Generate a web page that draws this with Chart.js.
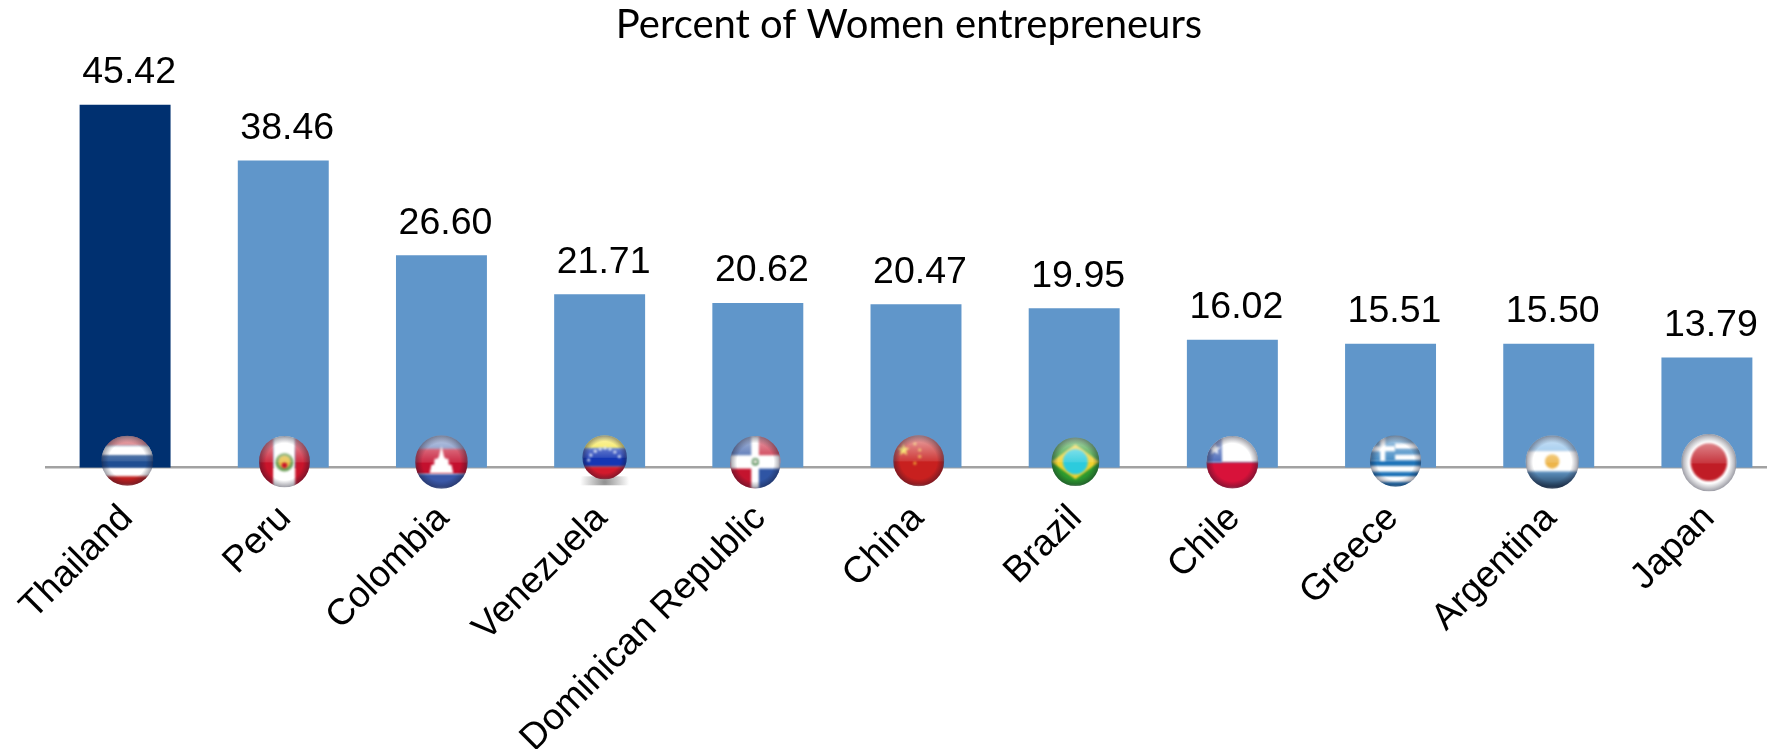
<!DOCTYPE html>
<html>
<head>
<meta charset="utf-8">
<title>Percent of Women entrepreneurs</title>
<script src="https://cdn.jsdelivr.net/npm/chart.js@4/dist/chart.umd.min.js"></script>
<style>
  html, body { margin: 0; padding: 0; background: #fff; overflow: hidden; }
  canvas { display: block; }
</style>
</head>
<body>
<!-- wider than the window: the last category runs past the right edge -->
<canvas id="chart" width="1786" height="749"></canvas>
<script>
/* ----------------------------- */
/* DATA                          */
/* ----------------------------- */
const countries = ["Thailand", "Peru", "Colombia", "Venezuela", "Dominican Republic", "China", "Brazil", "Chile", "Greece", "Argentina", "Japan"];
const womenPercent = [45.42, 38.46, 26.60, 21.71, 20.62, 20.47, 19.95, 16.02, 15.51, 15.50, 13.79];
const chartTitle = "Percent of Women entrepreneurs";

/* ----------------------------- */
/* STYLE                         */
/* ----------------------------- */
const barColors = countries.map((c, i) => (i === 0 ? "#003070" : "#6096CA"));
const labelFont = '37.5px "Liberation Sans"';
const yAxisMax = 52.4;

/* ----------------------------- */
/* FLAG DRAWING (unit circle)    */
/* ----------------------------- */
const hBands = (ctx, bands) => {
  bands.forEach(([from, to, color]) => {
    ctx.fillStyle = color;
    ctx.fillRect(-1, from, 2, to - from);
  });
};
const vBands = (ctx, bands) => {
  bands.forEach(([from, to, color]) => {
    ctx.fillStyle = color;
    ctx.fillRect(from, -1, to - from, 2);
  });
};
const dot = (ctx, x, y, r, color) => {
  ctx.fillStyle = color;
  ctx.beginPath();
  ctx.arc(x, y, r, 0, Math.PI * 2);
  ctx.fill();
};
const star = (ctx, x, y, r, color) => {
  ctx.fillStyle = color;
  ctx.beginPath();
  for (let k = 0; k < 10; k++) {
    const a = -Math.PI / 2 + (k * Math.PI) / 5;
    const d = k % 2 ? r * 0.42 : r;
    ctx.lineTo(x + d * Math.cos(a), y + d * Math.sin(a));
  }
  ctx.closePath();
  ctx.fill();
};

const flagPainters = {
  Thailand: (ctx) => hBands(ctx, [[-1, -0.6, "#C8353F"], [-0.6, -0.2, "#FFFFFF"], [-0.2, 0.3, "#1F4E92"], [0.3, 0.62, "#FFFFFF"], [0.62, 1, "#C0201F"]]),
  Peru: (ctx) => {
    vBands(ctx, [[-1, -0.42, "#C9142B"], [-0.42, 0.42, "#FFFFFF"], [0.42, 1, "#C9142B"]]);
    dot(ctx, 0, 0.02, 0.36, "#6FA05A");
    dot(ctx, 0, 0, 0.24, "#E8C04A");
    dot(ctx, 0, 0.14, 0.11, "#C9142B");
  },
  Colombia: (ctx) => {
    hBands(ctx, [[-1, -0.5, "#5A78B8"], [-0.5, 0.45, "#C4102E"], [0.45, 1, "#3A58A8"]]);
    ctx.fillStyle = "#FFFFFF";
    ctx.beginPath();
    [[-0.45, 0.42], [-0.38, 0.1], [-0.28, 0.1], [-0.26, -0.12], [-0.16, -0.12], [-0.1, -0.2], [0, -0.6], [0.1, -0.2], [0.16, -0.12], [0.26, -0.12], [0.28, 0.1], [0.38, 0.1], [0.45, 0.42]].forEach(([x, y]) => ctx.lineTo(x, y));
    ctx.closePath();
    ctx.fill();
  },
  Venezuela: (ctx) => {
    hBands(ctx, [[-1, -0.4, "#F5E32E"], [-0.4, 0.42, "#1436B4"], [0.42, 1, "#D21A2C"]]);
    [[-0.72, 0.12], [-0.62, -0.1], [-0.42, -0.28], [-0.2, -0.38], [0.02, -0.42], [0.24, -0.38], [0.46, -0.24], [0.66, -0.04]].forEach(([x, y]) => dot(ctx, x, y, 0.07, "#DDE6F5"));
  },
  "Dominican Republic": (ctx) => {
    ctx.fillStyle = "#2F55A4";
    ctx.fillRect(-1, -1, 1, 1);
    ctx.fillRect(0, 0, 1, 1);
    ctx.fillStyle = "#C4142E";
    ctx.fillRect(0, -1, 1, 1);
    ctx.fillRect(-1, 0, 1, 1);
    hBands(ctx, [[-0.27, 0.24, "#FFFFFF"]]);
    vBands(ctx, [[-0.16, 0.14, "#FFFFFF"]]);
    dot(ctx, 0, -0.02, 0.15, "#6E9E72");
    dot(ctx, 0, -0.02, 0.07, "#E8E4D8");
  },
  China: (ctx) => {
    ctx.fillStyle = "#C8201F";
    ctx.fillRect(-1, -1, 2, 2);
    star(ctx, -0.6, -0.42, 0.26, "#F2D23A");
    star(ctx, -0.15, -0.66, 0.09, "#F2C23A");
    star(ctx, 0.04, -0.42, 0.09, "#F2C23A");
    star(ctx, 0.04, -0.16, 0.09, "#F2C23A");
    star(ctx, -0.15, 0.1, 0.09, "#F2C23A");
  },
  Brazil: (ctx) => {
    ctx.fillStyle = "#2C9A2E";
    ctx.fillRect(-1, -1, 2, 2);
    ctx.fillStyle = "#F2D22E";
    ctx.beginPath();
    [[-1, 0], [0, -0.72], [1, 0], [0, 0.72]].forEach(([x, y]) => ctx.lineTo(x, y));
    ctx.closePath();
    ctx.fill();
    dot(ctx, 0, 0, 0.52, "#2CCBDD");
  },
  Chile: (ctx) => {
    hBands(ctx, [[-1, 0, "#FFFFFF"], [0, 1, "#D8123A"]]);
    ctx.fillStyle = "#3558B0";
    ctx.fillRect(-1, -1, 0.6, 1);
    star(ctx, -0.68, -0.5, 0.24, "#FFFFFF");
  },
  Greece: (ctx) => {
    hBands(ctx, [[-1, -0.68, "#2C7CBC"], [-0.68, -0.46, "#FFFFFF"], [-0.46, -0.24, "#2C7CBC"], [-0.24, -0.02, "#FFFFFF"], [-0.02, 0.2, "#1F74B8"], [0.2, 0.42, "#FFFFFF"], [0.42, 0.62, "#1F74B8"], [0.62, 0.82, "#FFFFFF"], [0.82, 1, "#1F74B8"]]);
    ctx.fillStyle = "#2C7CBC";
    ctx.fillRect(-1, -1, 0.98, 1);
    ctx.fillStyle = "#FFFFFF";
    ctx.fillRect(-1, -0.58, 0.98, 0.2);
    ctx.fillRect(-0.6, -1, 0.2, 1);
  },
  Argentina: (ctx) => {
    hBands(ctx, [[-1, -0.42, "#7FB8E8"], [-0.42, 0.35, "#FFFFFF"]]);
    const lower = ctx.createLinearGradient(0, 0.35, 0, 1);
    lower.addColorStop(0, "#5F93C2");
    lower.addColorStop(1, "#1E3B55");
    ctx.fillStyle = lower;
    ctx.fillRect(-1, 0.35, 2, 0.65);
    dot(ctx, 0, -0.02, 0.27, "#EDB54A");
  },
  Japan: (ctx) => {
    ctx.fillStyle = "#FFFFFF";
    ctx.fillRect(-1, -1, 2, 2);
    dot(ctx, 0, -0.02, 0.66, "#C01C26");
  },
};

// dx, dy from the bar foot, then the two radii
const flagPlacement = {
  Thailand: [2.2, -7, 26, 25],
  Peru: [1.2, -6, 25.5, 25.7],
  Colombia: [0, -5.7, 26.3, 26.7],
  Venezuela: [5, -10.4, 22.3, 22],
  "Dominican Republic": [-2.5, -5.4, 25.3, 26.3],
  China: [2.7, -7, 25.5, 25.5],
  Brazil: [1.2, -6, 24, 24.3],
  Chile: [0, -5.4, 26, 26.3],
  Greece: [5, -6.7, 25.7, 25.7],
  Argentina: [3.5, -5.7, 26.7, 26.7],
  Japan: [2, -5, 27.7, 28.7],
};

const drawFlag = (ctx, name, cx, cy, rx, ry) => {
  ctx.save();
  if (name === "Venezuela") {
    // the only flag with a cast shadow under it
    const shade = ctx.createRadialGradient(cx, cy + ry + 3, 1, cx, cy + ry + 3, rx * 1.1);
    shade.addColorStop(0, "rgba(60,60,60,0.55)");
    shade.addColorStop(1, "rgba(60,60,60,0)");
    ctx.fillStyle = shade;
    ctx.fillRect(cx - rx * 1.2, cy + ry - 3, rx * 2.4, 9);
  }
  ctx.translate(cx, cy);
  ctx.scale(rx, ry);
  ctx.beginPath();
  ctx.arc(0, 0, 1, 0, Math.PI * 2);
  ctx.clip();
  ctx.filter = "blur(0.8px)";
  flagPainters[name](ctx);
  ctx.filter = "none";
  // gloss on the upper half
  const gloss = ctx.createLinearGradient(0, -1, 0, 0.05);
  gloss.addColorStop(0, "rgba(255,255,255,0.62)");
  gloss.addColorStop(0.95, "rgba(255,255,255,0.12)");
  gloss.addColorStop(1, "rgba(255,255,255,0)");
  ctx.fillStyle = gloss;
  ctx.fillRect(-1, -1, 2, 2);
  // darker rim
  const rim = ctx.createRadialGradient(0, 0, 0.72, 0, 0, 1);
  rim.addColorStop(0, "rgba(20,20,40,0)");
  rim.addColorStop(1, "rgba(20,20,40,0.42)");
  ctx.fillStyle = rim;
  ctx.fillRect(-1, -1, 2, 2);
  ctx.restore();
};

/* ----------------------------- */
/* INLINE PLUGIN                 */
/* ----------------------------- */
const barExtras = {
  id: "barExtras",
  afterLayout(chart) {
    // title is centred a little left of the plot area
    const block = chart.titleBlock;
    block.left = 0;
    block.right = 1818;
  },
  afterDatasetsDraw(chart) {
    const { ctx, scales } = chart;
    const bars = chart.getDatasetMeta(0).data;
    const foot = scales.y.getPixelForValue(0);

    countries.forEach((name, i) => {
      const [dx, dy, rx, ry] = flagPlacement[name];
      drawFlag(ctx, name, scales.x.getPixelForValue(i) + dx, foot + dy, rx, ry);
    });

    ctx.save();
    ctx.font = labelFont;
    ctx.fillStyle = "#000";
    ctx.textAlign = "center";
    ctx.textBaseline = "alphabetic";
    bars.forEach((bar, i) => {
      ctx.fillText(womenPercent[i].toFixed(2), bar.x + 4, bar.y - 21.5);
    });
    ctx.restore();
  },
};

/* ----------------------------- */
/* CHART                         */
/* ----------------------------- */
new Chart(document.getElementById("chart"), {
  type: "bar",
  data: {
    labels: countries,
    datasets: [{
      data: womenPercent,
      backgroundColor: barColors,
      categoryPercentage: 1,
      barPercentage: 0.575,
    }],
  },
  options: {
    responsive: false,
    animation: false,
    layout: { padding: { left: 46, right: 0, top: 0, bottom: 0 } },
    plugins: {
      legend: { display: false },
      tooltip: { enabled: false },
      title: {
        display: true,
        text: chartTitle,
        color: "#000",
        font: { family: "Lato", size: 40, weight: "normal" },
        padding: { top: 1, bottom: 0 },
        fullSize: false,
      },
    },
    scales: {
      x: {
        grid: { display: false },
        border: { display: true, color: "#A2A2A2", width: 2.5 },
        ticks: {
          color: "#000",
          font: { family: "Liberation Sans", size: 37 },
          minRotation: 45,
          maxRotation: 45,
          autoSkip: false,
          padding: 21,
          labelOffset: 2,
        },
        afterFit(scale) {
          scale.height = 281.3;
        },
      },
      y: { display: false, min: 0, max: yAxisMax },
    },
  },
  plugins: [barExtras],
});
</script>
</body>
</html>
